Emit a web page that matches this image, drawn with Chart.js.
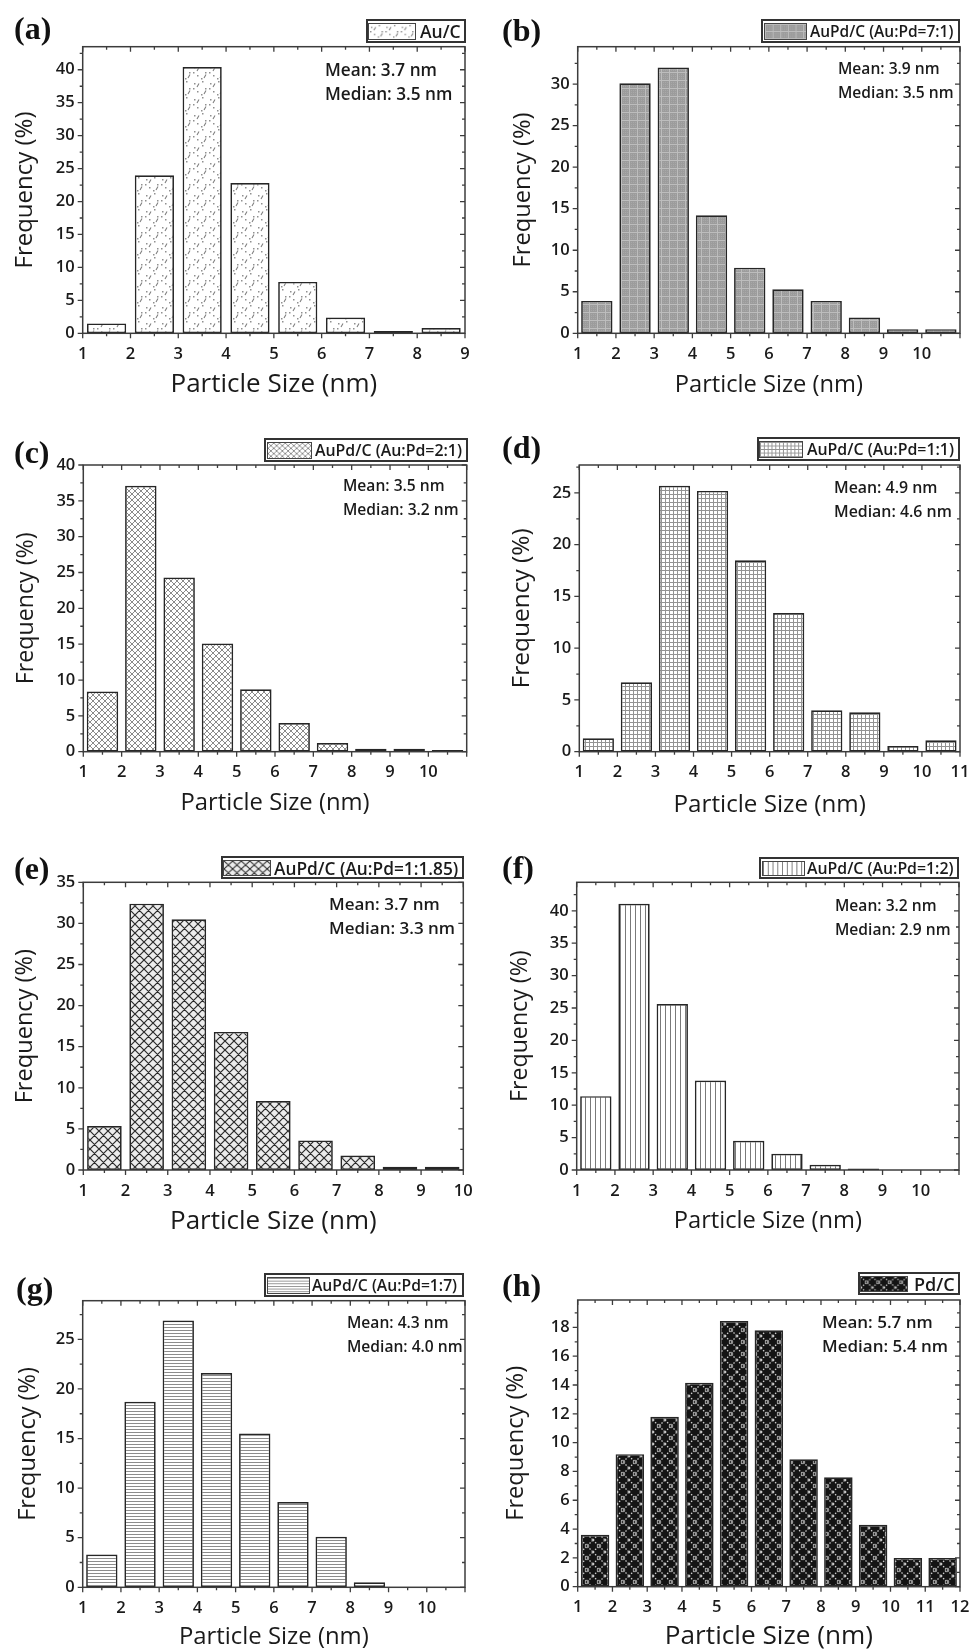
<!DOCTYPE html>
<html><head><meta charset="utf-8">
<script src="https://cdn.jsdelivr.net/npm/chart.js@4.4.1/dist/chart.umd.min.js"></script>
<style>
html,body{margin:0;padding:0;background:#fff;}
#fig{position:relative;width:971px;height:1651px;overflow:hidden;background:#fff;}
canvas.panel{position:absolute;}
.plabel{position:absolute;font-family:'Liberation Serif','Times New Roman',serif;font-weight:bold;font-size:32px;line-height:34px;color:#111;}
.stat{position:absolute;font-family:'Open Sans',sans-serif;font-weight:600;line-height:22px;color:#1a1a1a;white-space:nowrap;}
.legend{position:absolute;box-sizing:border-box;border:2px solid #333;background:#fff;font-family:'Open Sans',sans-serif;font-weight:600;color:#1a1a1a;white-space:nowrap;overflow:hidden;}
.legend canvas{position:absolute;border:1.5px solid #444;box-sizing:border-box;display:block;}
.legend span{position:absolute;top:50%;transform:translateY(-50%);}
</style></head><body><div id="fig"></div>
<script>
// ---------- DATA ----------
const centersA = [1.5,2.5,3.5,4.5,5.5,6.5,7.5,8.5];
const freqA    = [1.5,24.0,40.4,22.8,7.8,2.4,0.35,0.8];
const centersB = [1.5,2.5,3.5,4.5,5.5,6.5,7.5,8.5,9.5,10.5];
const freqB    = [3.9,30.1,32.0,14.2,7.9,5.3,3.9,1.9,0.5,0.5];
const centersC = [1.5,2.5,3.5,4.5,5.5,6.5,7.5,8.5,9.5,10.5];
const freqC    = [8.4,37.1,24.3,15.1,8.7,4.0,1.2,0.4,0.4,0.25];
const centersD = [1.5,2.5,3.5,4.5,5.5,6.5,7.5,8.5,9.5,10.5];
const freqD    = [1.3,6.7,25.7,25.2,18.5,13.4,4.0,3.8,0.55,1.1];
const centersE = [1.5,2.5,3.5,4.5,5.5,6.5,7.5,8.5,9.5];
const freqE    = [5.35,32.4,30.5,16.8,8.4,3.6,1.75,0.4,0.4];
const centersF = [1.5,2.5,3.5,4.5,5.5,6.5,7.5,8.5];
const freqF    = [11.4,41.1,25.6,13.8,4.5,2.5,0.8,0.25];
const centersG = [1.5,2.5,3.5,4.5,5.5,6.5,7.5,8.5];
const freqG    = [3.3,18.7,26.9,21.6,15.5,8.6,5.1,0.5];
const centersH = [1.5,2.5,3.5,4.5,5.5,6.5,7.5,8.5,9.5,10.5,11.5];
const freqH    = [3.6,9.2,11.8,14.15,18.45,17.8,8.85,7.6,4.3,2.0,2.0];

const xTicksA = [1,2,3,4,5,6,7,8,9];
const xTicksB = [1,2,3,4,5,6,7,8,9,10];
const xTicksC = [1,2,3,4,5,6,7,8,9,10];
const xTicksD = [1,2,3,4,5,6,7,8,9,10,11];
const xTicksE = [1,2,3,4,5,6,7,8,9,10];
const xTicksF = [1,2,3,4,5,6,7,8,9,10];
const xTicksG = [1,2,3,4,5,6,7,8,9,10];
const xTicksH = [1,2,3,4,5,6,7,8,9,10,11,12];
const yTicksA = [0,5,10,15,20,25,30,35,40];
const yTicksB = [0,5,10,15,20,25,30];
const yTicksC = [0,5,10,15,20,25,30,35,40];
const yTicksD = [0,5,10,15,20,25];
const yTicksE = [0,5,10,15,20,25,30,35];
const yTicksF = [0,5,10,15,20,25,30,35,40];
const yTicksG = [0,5,10,15,20,25];
const yTicksH = [0,2,4,6,8,10,12,14,16,18];

const seriesNames = ['Au/C','AuPd/C (Au:Pd=7:1)','AuPd/C (Au:Pd=2:1)','AuPd/C (Au:Pd=1:1)','AuPd/C (Au:Pd=1:1.85)','AuPd/C (Au:Pd=1:2)','AuPd/C (Au:Pd=1:7)','Pd/C'];
const meanTexts   = ['Mean: 3.7 nm','Mean: 3.9 nm','Mean: 3.5 nm','Mean: 4.9 nm','Mean: 3.7 nm','Mean: 3.2 nm','Mean: 4.3 nm','Mean: 5.7 nm'];
const medianTexts = ['Median: 3.5 nm','Median: 3.5 nm','Median: 3.2 nm','Median: 4.6 nm','Median: 3.3 nm','Median: 2.9 nm','Median: 4.0 nm','Median: 5.4 nm'];
const panelLetters = ['(a)','(b)','(c)','(d)','(e)','(f)','(g)','(h)'];
const xTitle = 'Particle Size (nm)';
const yTitle = 'Frequency (%)';

// ---------- PATTERNS ----------
function tile(w,h,draw){const c=document.createElement('canvas');c.width=w;c.height=h;const g=c.getContext('2d');draw(g,w,h);return c;}
function diag(g,n,col,lw,dash){g.strokeStyle=col;g.lineWidth=lw;if(dash)g.setLineDash(dash);g.beginPath();
  for(let k=-1;k<=1;k++){g.moveTo(k*n,0);g.lineTo(k*n+n,n);g.moveTo(k*n,n);g.lineTo(k*n+n,0);}g.stroke();g.setLineDash([]);}
const tiles = {
  dots: tile(16,16,g=>{g.fillStyle='#fff';g.fillRect(0,0,16,16);g.fillStyle='#909090';
    [[2,3],[10,1],[13,8],[5,11],[9,14],[1,8]].forEach(([x,y])=>g.fillRect(x,y,1.5,1.5));
    g.strokeStyle='#808080';g.lineWidth=1.1;g.beginPath();g.moveTo(5,7);g.lineTo(7,3.5);g.moveTo(12,14);g.lineTo(14,10.5);g.stroke();}),
  grayGrid: tile(8,8,g=>{g.fillStyle='#a8a8a8';g.fillRect(0,0,8,8);g.fillStyle='#9c9c9c';
    for(let i=1;i<8;i+=2){g.fillRect(i,0,1,8);g.fillRect(0,i,8,1);}g.fillStyle='#bdbdbd';g.fillRect(0,0,8,1);g.fillRect(0,0,1,8);}),
  crossFine: tile(6,6,g=>{g.fillStyle='#fff';g.fillRect(0,0,6,6);diag(g,6,'#8a8a8a',1);}),
  gridFine: tile(4,4,g=>{g.fillStyle='#fff';g.fillRect(0,0,4,4);g.fillStyle='#939393';g.fillRect(0,0,4,1);g.fillRect(0,0,1,4);}),
  crossBold: tile(9,9,g=>{g.fillStyle='#ececec';g.fillRect(0,0,9,9);g.fillStyle='#fff';g.fillRect(3,3,3,3);diag(g,9,'#2a2a2a',1.2);}),
  vlines: tile(5,5,g=>{g.fillStyle='#fff';g.fillRect(0,0,5,5);g.fillStyle='#7a7a7a';g.fillRect(0,0,1,5);}),
  hlines: tile(3,3,g=>{g.fillStyle='#fff';g.fillRect(0,0,3,3);g.fillStyle='#8c8c8c';g.fillRect(0,0,3,1);}),
  dark: tile(12,12,g=>{g.fillStyle='#141414';g.fillRect(0,0,12,12);diag(g,12,'#c8c8c8',1.3,[1.5,1.5]);
    g.strokeStyle='#9a9a9a';g.lineWidth=1;g.beginPath();g.arc(6,6,1.8,0,Math.PI*2);g.stroke();})
};
function pat(ctx,name){return ctx.createPattern(tiles[name],'repeat');}

// ---------- LAYOUT ----------
// leg: [boxLeft, boxRight, top, height, swatchLeft, swatchWidth, textLeft, fontSize]
// fs: [stat, xTitle, yTitle]
const panels = [
 {centers:centersA,freq:freqA,xT:xTicksA,yT:yTicksA,xr:[1,9], ymax:43.5,ystep:5,pattern:'dots',
  cv:[0,0,485,410],   plot:[82.7,46.7,465,333.3],  yTitleX:25,  xTitleY:385,
  leg:[366,466,19,24,368,48,420,18], stat:[325,70], lab:[14,28], fs:[17.2,26,24]},
 {centers:centersB,freq:freqB,xT:xTicksB,yT:yTicksB,xr:[1,11],ymax:34.5,ystep:5,pattern:'grayGrid',
  cv:[485,0,486,410], plot:[577.7,46.7,960,333.3], yTitleX:38,  xTitleY:385,
  leg:[761,960,19,24,764,43,810,16], stat:[838,68], lab:[502,30], fs:[15.6,23.7,23.7]},
 {centers:centersC,freq:freqC,xT:xTicksC,yT:yTicksC,xr:[1,11],ymax:40,ystep:5,pattern:'crossFine',
  cv:[0,410,485,415], plot:[83.3,465,466.7,751.7], yTitleX:26.7,xTitleY:803,
  leg:[264,468,438,24,267,45,315,16.4], stat:[343,485], lab:[14,452], fs:[15.6,23.8,23.2]},
 {centers:centersD,freq:freqD,xT:xTicksD,yT:yTicksD,xr:[1,11],ymax:27.7,ystep:5,pattern:'gridFine',
  cv:[485,410,486,415],plot:[579.3,465,960,751.7],yTitleX:36.7,xTitleY:805,
  leg:[757,960,437,24,759,44,807,16.4], stat:[834,487], lab:[502,447], fs:[15.9,24.2,24.5]},
 {centers:centersE,freq:freqE,xT:xTicksE,yT:yTicksE,xr:[1,10],ymax:35,ystep:5,pattern:'crossBold',
  cv:[0,825,485,415], plot:[83.3,882.3,463.3,1170],yTitleX:25,  xTitleY:1221.7,
  leg:[221,464,856,23,223,48,274,17.8], stat:[329,904], lab:[14,868], fs:[17,26,23.6]},
 {centers:centersF,freq:freqF,xT:xTicksF,yT:yTicksF,xr:[1,11],ymax:44.4,ystep:5,pattern:'vlines',
  cv:[485,825,486,415],plot:[576.7,882.3,959,1170],yTitleX:35, xTitleY:1221.7,
  leg:[759,959,857,22,762,43,807,16.1], stat:[835,905], lab:[502,867], fs:[15.6,23.7,23.2]},
 {centers:centersG,freq:freqG,xT:xTicksG,yT:yTicksG,xr:[1,11],ymax:28.9,ystep:5,pattern:'hlines',
  cv:[0,1240,485,411], plot:[82.7,1300.7,465,1587.3],yTitleX:28,xTitleY:1636.7,
  leg:[264,464,1273,24,267,43,312,16.2], stat:[347,1322], lab:[16,1288], fs:[15.6,23.9,23.5]},
 {centers:centersH,freq:freqH,xT:xTicksH,yT:yTicksH,xr:[1,12],ymax:19.9,ystep:2,pattern:'dark',
  cv:[485,1240,486,411],plot:[577.7,1300,960,1586.7],yTitleX:31.7,xTitleY:1636.7,
  leg:[858,960,1272,23,860,48,914,18], stat:[822,1322], lab:[502,1285], fs:[17,26.2,23.7]}
];

Chart.defaults.font.family = "'Open Sans', sans-serif";
Chart.defaults.color = '#1a1a1a';

const framePlugin = {
  id:'frame',
  afterDraw(chart, args, opts){
    const {ctx, chartArea:a, scales:{x,y}} = chart;
    ctx.save();
    ctx.strokeStyle='#3c3c3c';
    ctx.lineWidth=1.5;
    ctx.strokeRect(a.left, a.top, a.right-a.left, a.bottom-a.top);
    ctx.lineWidth=1.3;
    ctx.beginPath();
    const xs=opts.xStep, ys=opts.yStep;
    for(let i=0;;i++){
      const v=x.min+i*xs/2; if(v>x.max+1e-6) break;
      const px=x.getPixelForValue(v); const L=(i%2===0)?5:3;
      ctx.moveTo(px,a.bottom); ctx.lineTo(px,a.bottom+L);
      ctx.moveTo(px,a.top); ctx.lineTo(px,a.top+L);
    }
    for(let i=0;;i++){
      const v=y.min+i*ys/2; if(v>y.max+1e-6) break;
      const py=y.getPixelForValue(v); const L=(i%2===0)?5:3;
      ctx.moveTo(a.left,py); ctx.lineTo(a.left-L,py);
      ctx.moveTo(a.right,py); ctx.lineTo(a.right-L,py);
    }
    ctx.stroke();
    ctx.restore();
  }
};

const fig = document.getElementById('fig');
panels.forEach((p,idx)=>{
  const [cl,ct,cw,ch]=p.cv; const [pl,pt,pr,pb]=p.plot;
  const [statFs,xtFs,ytFs]=p.fs;
  const cv=document.createElement('canvas'); cv.className='panel';
  cv.width=cw; cv.height=ch; cv.style.left=cl+'px'; cv.style.top=ct+'px'; cv.style.width=cw+'px'; cv.style.height=ch+'px';
  fig.appendChild(cv);
  const ctx=cv.getContext('2d');
  new Chart(ctx,{
    type:'bar',
    data:{datasets:[{label:seriesNames[idx],
      data:p.centers.map((c,i)=>({x:c,y:p.freq[i]})),
      backgroundColor:pat(ctx,p.pattern), borderColor:'#262626', borderWidth:1.7, borderSkipped:false,
      barPercentage:0.82, categoryPercentage:1}]},
    options:{
      responsive:false, animation:false, events:[],
      layout:{padding:{left:0,bottom:0,top:pt-ct,right:(cl+cw)-pr}},
      plugins:{legend:{display:false},tooltip:{enabled:false},frame:{xStep:1,yStep:p.ystep}},
      scales:{
        x:{type:'linear',min:p.xr[0],max:p.xr[1],offset:false,
          grid:{display:false,drawTicks:false,offset:false},border:{display:false},
          ticks:{stepSize:1,padding:11,maxRotation:0,autoSkip:false,font:{size:16.5,weight:'600'},color:'#1a1a1a',
            callback:v=>p.xT.includes(v)?String(v):''},
          title:{display:true,text:xTitle,font:{size:xtFs,weight:'normal'},color:'#1a1a1a',
            padding:{top:0,bottom:(ct+ch)-p.xTitleY-xtFs*0.6}},
          afterFit:s=>{s.height=(ct+ch)-pb;s.paddingLeft=0;s.paddingRight=0;}},
        y:{type:'linear',min:0,max:p.ymax,
          grid:{display:false,drawTicks:false},border:{display:false},
          ticks:{stepSize:p.ystep,padding:8,autoSkip:false,font:{size:16.5,weight:'600'},color:'#1a1a1a',
            callback:v=>p.yT.includes(v)?String(v):''},
          title:{display:true,text:yTitle,font:{size:ytFs,weight:'normal'},color:'#1a1a1a',
            padding:{top:p.yTitleX-ytFs*0.6,bottom:0}},
          afterFit:s=>{s.width=pl-cl;s.paddingTop=0;s.paddingBottom=0;}}
      }
    },
    plugins:[framePlugin]
  });

  // panel label
  const lab=document.createElement('div'); lab.className='plabel'; lab.textContent=panelLetters[idx];
  lab.style.left=p.lab[0]+'px'; lab.style.top=(p.lab[1]-17)+'px'; fig.appendChild(lab);
  // stats
  [meanTexts[idx],medianTexts[idx]].forEach((t,k)=>{
    const d=document.createElement('div'); d.className='stat'; d.textContent=t;
    d.style.fontSize=statFs+'px';
    d.style.left=p.stat[0]+'px'; d.style.top=(p.stat[1]+24*k-11)+'px'; fig.appendChild(d);
  });
  // legend
  const [bl,br,bt,bh,sl,swd,tl,lfs]=p.leg;
  const lg=document.createElement('div'); lg.className='legend';
  lg.style.left=bl+'px'; lg.style.width=(br-bl)+'px'; lg.style.top=bt+'px'; lg.style.height=bh+'px';
  const sw=document.createElement('canvas'); const sh=bh-7;
  sw.width=swd; sw.height=sh; sw.style.width=swd+'px'; sw.style.height=sh+'px';
  sw.style.left=(sl-bl-2)+'px'; sw.style.top=((bh-4-sh)/2)+'px';
  const sg=sw.getContext('2d'); sg.fillStyle=pat(sg,p.pattern); sg.fillRect(0,0,sw.width,sw.height);
  lg.appendChild(sw);
  const tx=document.createElement('span'); tx.textContent=seriesNames[idx]; tx.style.left=(tl-bl-2)+'px';
  lg.appendChild(tx);
  fig.appendChild(lg);
  // shrink legend font until the text fits inside the box
  const avail=(br-2-3)-tl;
  let f=lfs; tx.style.fontSize=f+'px';
  while(tx.getBoundingClientRect().width>avail && f>10){ f-=0.25; tx.style.fontSize=f+'px'; }
});
</script>
</body></html>
